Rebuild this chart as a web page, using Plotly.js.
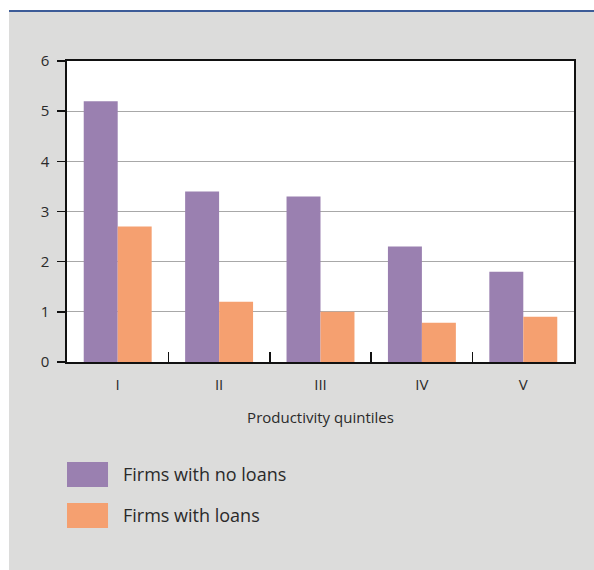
<!DOCTYPE html>
<html>
<head>
<meta charset="utf-8">
<script src="https://cdn.plot.ly/plotly-3.0.1.min.js"></script>
<style>
  html, body { margin: 0; padding: 0; background: #ffffff; }
  #wrap { position: absolute; left: 9px; top: 10px; width: 585px; height: 560px; background: #dcdcdb; }
  #bar { position: absolute; left: 0; top: 0; width: 585px; height: 2px; background: #3d5c98; }
  #chart { position: absolute; left: 0; top: 0; width: 585px; height: 560px; }
</style>
</head>
<body>
<div id="wrap"><div id="chart"></div><div id="bar"></div></div>
<script>
const categories = ["I", "II", "III", "IV", "V"];
const noLoans = [5.2, 3.4, 3.3, 2.3, 1.8];
const withLoans = [2.7, 1.2, 1.0, 0.78, 0.9];
const seriesNames = ["Firms with no loans", "Firms with loans"];
const seriesColors = ["#9a80b0", "#f5a070"];
const yTicks = [0, 1, 2, 3, 4, 5, 6];
const xTitle = "Productivity quintiles";

const font = "Open Sans, Noto Sans, sans-serif";
const traces = [noLoans, withLoans].map((vals, i) => ({
  type: "bar",
  x: categories,
  y: vals,
  name: seriesNames[i],
  marker: { color: seriesColors[i], line: { width: 0 } },
  hoverinfo: "skip"
}));

// custom legend (big swatches) in paper coords
const shapes = [];
const annotations = [];
const swY = [[-0.3322, -0.4153], [-0.4684, -0.5515]];
seriesNames.forEach((n, i) => {
  shapes.push({ type: "rect", xref: "paper", yref: "paper", x0: 0, x1: 0.0809,
    y0: swY[i][1], y1: swY[i][0], fillcolor: seriesColors[i], line: { width: 0 } });
  annotations.push({ xref: "paper", yref: "paper", x: 0.107, y: (swY[i][0] + swY[i][1]) / 2,
    xanchor: "left", yanchor: "middle", showarrow: false, text: n,
    font: { family: font, size: 18, color: "#2a2a2a" } });
});

const layout = {
  width: 585, height: 560,
  margin: { l: 58, r: 20, t: 51, b: 208 },
  paper_bgcolor: "rgba(0,0,0,0)",
  plot_bgcolor: "#ffffff",
  showlegend: false,
  barmode: "group",
  bargap: 0.33,
  bargroupgap: 0,
  font: { family: font, size: 15, color: "#2a2a2a" },
  xaxis: {
    type: "category",
    showline: true, linecolor: "#111", linewidth: 1.6, mirror: true,
    ticks: "inside", tickson: "boundaries", ticklen: 10, tickwidth: 1.5, tickcolor: "#111",
    ticklabelstandoff: 8,
    tickfont: { family: font, size: 15, color: "#2a2a2a" },
    title: { text: xTitle, font: { family: font, size: 15, color: "#2a2a2a" }, standoff: 20 },
    showgrid: false
  },
  yaxis: {
    range: [0, 6], tickvals: yTicks,
    showline: true, linecolor: "#111", linewidth: 1.6, mirror: true,
    ticks: "outside", ticklen: 8, tickwidth: 1.5, tickcolor: "#111",
    ticklabelstandoff: 5,
    tickfont: { family: font, size: 15, color: "#2a2a2a" },
    showgrid: true, gridcolor: "#a8a8a8", gridwidth: 1,
    zeroline: false
  },
  shapes: shapes,
  annotations: annotations
};

Plotly.newPlot("chart", traces, layout, { displayModeBar: false, staticPlot: true });
</script>
</body>
</html>
